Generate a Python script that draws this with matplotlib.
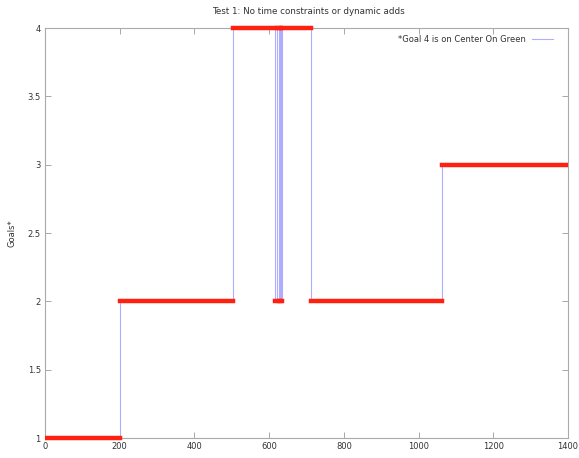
import matplotlib
matplotlib.use("Agg")
from matplotlib import pyplot as plt
from matplotlib.patches import Rectangle

# goal level changes: (time at which the level starts, level)
change_times = [0, 200, 503, 617, 622, 627, 629, 631, 634, 711, 1062]
goal_levels = [1, 2, 4, 2, 4, 2, 4, 2, 4, 2, 3]
end_time = 1400

x_ticks = [0, 200, 400, 600, 800, 1000, 1200, 1400]
y_ticks = [1, 1.5, 2, 2.5, 3, 3.5, 4]
y_tick_labels = ['1', '1.5', '2', '2.5', '3', '3.5', '4']

fig = plt.figure(figsize=(5.79, 4.58), dpi=100)
ax = fig.add_axes([45 / 579, 1 - 438 / 458, 523 / 579, 410 / 458])

# blue step line
xs = change_times + [end_time]
ys = goal_levels + [goal_levels[-1]]
ax.step(xs, ys, where='post', color='#aeaeff', linewidth=0.8,
        label='*Goal 4 is on Center On Green', zorder=2)

# red thick levels
starts = change_times
ends = change_times[1:] + [end_time]
red = ax.hlines(goal_levels, starts, ends, colors='#ff2010', linewidth=3.2,
                zorder=3)
red.set_capstyle('projecting')
# clip left/right at the axes but let the line overhang top and bottom
clip = Rectangle((0, -0.05), 1, 1.1, transform=ax.transAxes,
                 facecolor='none', edgecolor='none')
red.set_clip_path(clip)

ax.set_xlim(0, 1400)
ax.set_ylim(1, 4)
ax.set_xticks(x_ticks)
ax.set_xticklabels([str(t) for t in x_ticks])
ax.set_yticks(y_ticks)
ax.set_yticklabels(y_tick_labels)
ax.tick_params(direction='in', top=True, right=True, length=4, width=0.6,
               color='#999999', labelsize=6, pad=3, labelcolor='#333333')
for s in ax.spines.values():
    s.set_color('#aaaaaa')
    s.set_linewidth(0.8)

ax.set_ylabel('Goals*', fontsize=6, color='#333333', labelpad=8)
fig.text(0.532, 0.974, 'Test 1: No time constraints or dynamic adds',
         ha='center', va='center', fontsize=6.3, color='#333333')

leg = ax.legend(loc='upper right', bbox_to_anchor=(0.985, 1.0), fontsize=6,
                frameon=False, markerfirst=False, handlelength=2.6,
                borderaxespad=0.4, handletextpad=0.7)
for t in leg.get_texts():
    t.set_color('#333333')

fig.savefig('out.png', dpi=100)
